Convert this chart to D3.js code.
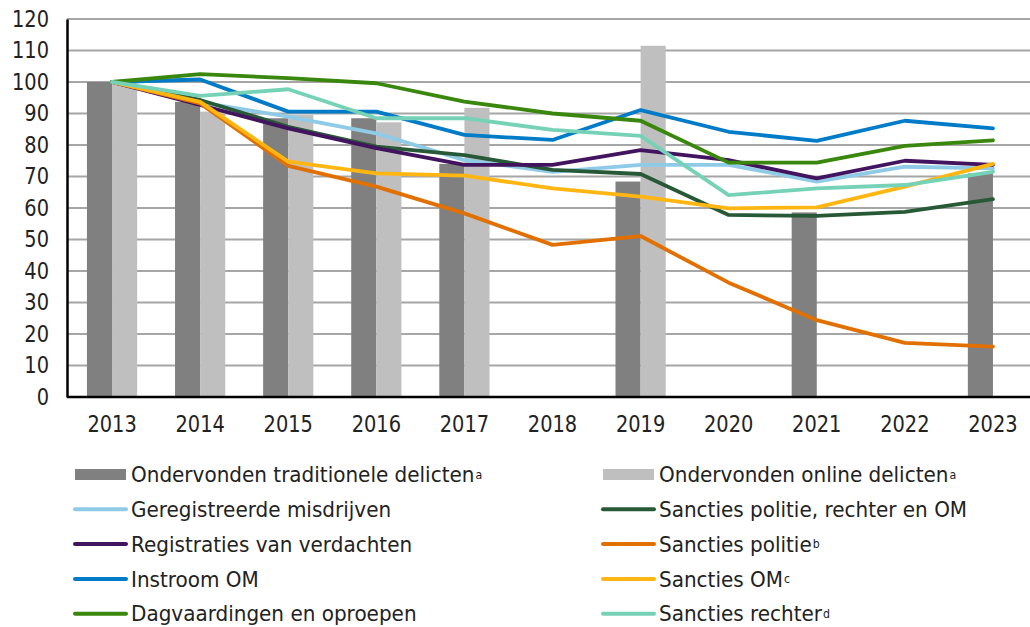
<!DOCTYPE html>
<html>
<head>
<meta charset="utf-8">
<script src="https://cdn.jsdelivr.net/npm/d3@7"></script>
<style>
  body { margin: 0; background: #fff; }
  svg { display: block; font-family: "DejaVu Sans", Verdana, sans-serif; }
</style>
</head>
<body>
<div id="chart"></div>
<script>
// chart data, index 2013 = 100
var years = ["2013","2014","2015","2016","2017","2018","2019","2020","2021","2022","2023"];
var yTicks = [0,10,20,30,40,50,60,70,80,90,100,110,120];

var traditioneel = [100, 93.7, 88.5, 88.5, 74, null, 68.4, null, 58.6, null, 71];
var online       = [100, 90.6, 89.5, 87.2, 91.8, null, 111.5, null, null, null, null];

var geregistreerd  = [100, 93.5, 89.0, 83.7, 75.2, 71.5, 73.7, 73.7, 68.4, 73.1, 72.6];
var sanctiesPRO    = [100, 94.3, 85.8, 79.5, 76.8, 72.1, 70.8, 57.8, 57.5, 58.8, 62.8];
var verdachten     = [100, 92.7, 85.3, 79.0, 73.7, 73.7, 78.4, 75.2, 69.4, 75.0, 73.7];
var sanctiesPolitie = [100, 93.2, 73.4, 66.8, 58.3, 48.3, 51.1, 36.3, 24.4, 17.2, 16.0];
var instroomOM     = [100, 100.8, 90.6, 90.6, 83.2, 81.6, 91.1, 84.2, 81.3, 87.7, 85.3];
var sanctiesOM     = [100, 93.7, 74.7, 71.0, 70.3, 66.2, 63.6, 59.9, 60.2, 66.8, 74.0];
var dagvaardingen  = [100, 102.5, 101.2, 99.6, 93.8, 90.0, 87.7, 74.4, 74.4, 79.7, 81.5];
var sanctiesRechter = [100, 95.6, 97.7, 88.5, 88.5, 84.8, 82.9, 64.1, 66.2, 67.3, 71.5];

var barSeries = [
  {name: "Ondervonden traditionele delicten", sup: "a", values: traditioneel, color: "#808080"},
  {name: "Ondervonden online delicten", sup: "a", values: online, color: "#bfbfbf"}
];
// order as in excel legend (row wise), later ones drawn on top
var lineSeries = [
  {name: "Geregistreerde misdrijven", sup: "", values: geregistreerd, color: "#8fcae7"},
  {name: "Sancties politie, rechter en OM", sup: "", values: sanctiesPRO, color: "#275937"},
  {name: "Registraties van verdachten", sup: "", values: verdachten, color: "#42145f"},
  {name: "Sancties politie", sup: "b", values: sanctiesPolitie, color: "#e17000"},
  {name: "Instroom OM", sup: "", values: instroomOM, color: "#007bc7"},
  {name: "Sancties OM", sup: "c", values: sanctiesOM, color: "#ffb612"},
  {name: "Dagvaardingen en oproepen", sup: "", values: dagvaardingen, color: "#39870c"},
  {name: "Sancties rechter", sup: "d", values: sanctiesRechter, color: "#76d2b6"}
];

var width = 1030, height = 627;
var plot = {left: 67, right: 1037, top: 19, bottom: 397};

var svg = d3.select("#chart").append("svg")
    .attr("width", width)
    .attr("height", height);

var x = d3.scaleBand().domain(years).range([plot.left + 1, plot.right]).paddingInner(0.43).paddingOuter(0.215);
var xInner = d3.scaleBand().domain([0, 1]).range([0, x.bandwidth()]);
var y = d3.scaleLinear().domain([0, 120]).range([plot.bottom, plot.top]);

// gridlines
svg.append("g").selectAll("line")
    .data(yTicks.filter(function(d){ return d > 0; }))
    .enter().append("line")
    .attr("x1", plot.left).attr("x2", width)
    .attr("y1", function(d){ return y(d); })
    .attr("y2", function(d){ return y(d); })
    .attr("stroke", "#a6a6a6")
    .attr("stroke-width", 2);

// bars
barSeries.forEach(function(s, si){
  svg.append("g").selectAll("rect")
    .data(s.values.map(function(v, i){ return {year: years[i], v: v}; }).filter(function(d){ return d.v != null; }))
    .enter().append("rect")
    .attr("x", function(d){ return x(d.year) + xInner(si); })
    .attr("width", xInner.bandwidth())
    .attr("y", function(d){ return y(d.v); })
    .attr("height", function(d){ return y(0) - y(d.v); })
    .attr("fill", s.color);
});

// lines
var line = d3.line()
    .x(function(d, i){ return x(years[i]) + x.bandwidth() / 2; })
    .y(function(d){ return y(d); });

lineSeries.forEach(function(s){
  svg.append("path")
    .datum(s.values)
    .attr("d", line)
    .attr("fill", "none")
    .attr("stroke", s.color)
    .attr("stroke-width", 3.8)
    .attr("stroke-linejoin", "round")
    .attr("stroke-linecap", "round");
});

// axes (text a bit stretched in height, like the original)
var yAxis = svg.append("g")
    .attr("transform", "translate(" + plot.left + ",0)")
    .call(d3.axisLeft(y).tickValues(yTicks).tickSize(0).tickPadding(18));
yAxis.select(".domain").attr("stroke", "#000").attr("stroke-width", 2.5);
yAxis.selectAll("text").attr("font-size", 19.4).attr("fill", "#222").attr("font-family", "DejaVu Sans")
    .attr("transform", "scale(1,1.15)");

var xAxis = svg.append("g")
    .attr("transform", "translate(0," + plot.bottom + ")")
    .call(d3.axisBottom(x).tickSize(0).tickPadding(17));
xAxis.select(".domain").attr("d", "M" + plot.left + ",0H" + width).attr("stroke", "#000").attr("stroke-width", 2.5);
xAxis.selectAll("text").attr("font-size", 19.4).attr("fill", "#222").attr("font-family", "DejaVu Sans")
    .attr("transform", "scale(1,1.15)");

// legend, two columns, filled row by row
var legendItems = [];
barSeries.concat(lineSeries).forEach(function(s, i){
  legendItems.push({s: s, bar: i < 2});
});
var legend = svg.append("g");
legendItems.forEach(function(item, i){
  var col = i % 2, row = Math.floor(i / 2);
  var gx = col === 0 ? 73 : 601;
  var gy = 474.5 + row * 34.8;
  var g = legend.append("g").attr("transform", "translate(" + gx + "," + gy + ")");
  if (item.bar) {
    g.append("rect").attr("x", 2).attr("y", -5.5).attr("width", 51).attr("height", 11).attr("fill", item.s.color);
  } else {
    g.append("line").attr("x1", 2).attr("x2", 53).attr("y1", 0).attr("y2", 0)
      .attr("stroke", item.s.color).attr("stroke-width", 4).attr("stroke-linecap", "round");
  }
  var t = g.append("text").attr("x", 58).attr("y", 0).attr("dy", "0.36em")
    .attr("font-size", 20).attr("fill", "#222")
    .attr("transform", "scale(1,1.08)");
  t.append("tspan").text(item.s.name);
  if (item.s.sup) {
    t.append("tspan").attr("font-size", 11).attr("dy", "-0.3em").attr("dx", 1).text(item.s.sup);
  }
});
</script>
</body>
</html>
